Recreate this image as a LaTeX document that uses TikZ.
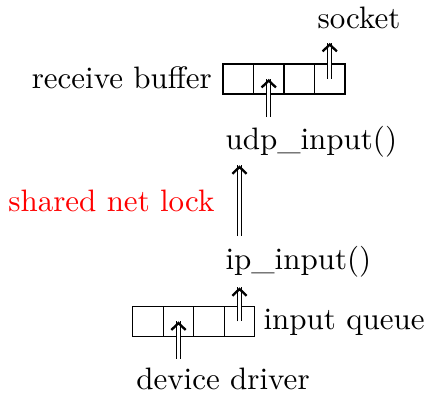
\documentclass[tikz,border=0pt]{standalone}
\usetikzlibrary{arrows.meta,calc,decorations.markings}
\begin{document}
\begin{tikzpicture}[x=0.3226pt,y=-0.3226pt,
  cell/.style={draw,line width=0.45pt,minimum width=30.5*0.3226pt,minimum height=30*0.3226pt,inner sep=0pt,outer sep=0pt},
  lbl/.style={inner sep=0pt,font=\fontsize{10}{12}\selectfont},
  flow/.style={double,double distance=0.95pt,line width=0.4pt,
    postaction={decorate},
    decoration={markings,mark=at position 1 with {\pgfsetinnerlinewidth{0pt}%
      \arrow[line width=0.75pt]{Straight Barb[length=2.2pt,width=4.6pt]}}}}]
\useasboundingbox (0,0) rectangle (429,396);
% receive buffer cells
\node[cell] (rb1) at (238.25,79) {};
\node[cell,anchor=west] (rb2) at (rb1.east) {};
\node[cell,anchor=west] (rb3) at (rb2.east) {};
\node[cell,anchor=west] (rb4) at (rb3.east) {};
% input queue cells
\node[cell] (iq1) at (148,321.5) {};
\node[cell,anchor=west] (iq2) at (iq1.east) {};
\node[cell,anchor=west] (iq3) at (iq2.east) {};
\node[cell,anchor=west] (iq4) at (iq3.east) {};
% labels
\node[lbl,anchor=base] (sock) at (359,29) {socket};
\node[lbl,anchor=base east] (rbl) at (212.5,89) {receive buffer};
\node[lbl,anchor=base west] (udp) at (225,150) {udp\_input()};
\node[lbl,anchor=base east,text=red] (lock) at (215,212) {shared net lock};
\node[lbl,anchor=base west] (ip) at (225,270) {ip\_input()};
\node[lbl,anchor=base west] (iql) at (263,330) {input queue};
\node[lbl,anchor=base] (dev) at (223,390) {device driver};
% packet flow
\draw[flow] ($(dev.north -| iq2)+(0,-9)$) -- (iq2.center);
\draw[flow] (iq4.center) -- ($(iq4 |- ip.south)+(0,9)$);
\draw[flow] ($(iq4 |- ip.north)+(0,-10)$) -- ($(iq4 |- udp.south)+(0,7)$);
\draw[flow] ($(rb2 |- udp.north)+(0,-9)$) -- (rb2.center);
\draw[flow] (rb4.center) -- ($(sock.south -| rb4)+(0,13)$);
\end{tikzpicture}
\end{document}
